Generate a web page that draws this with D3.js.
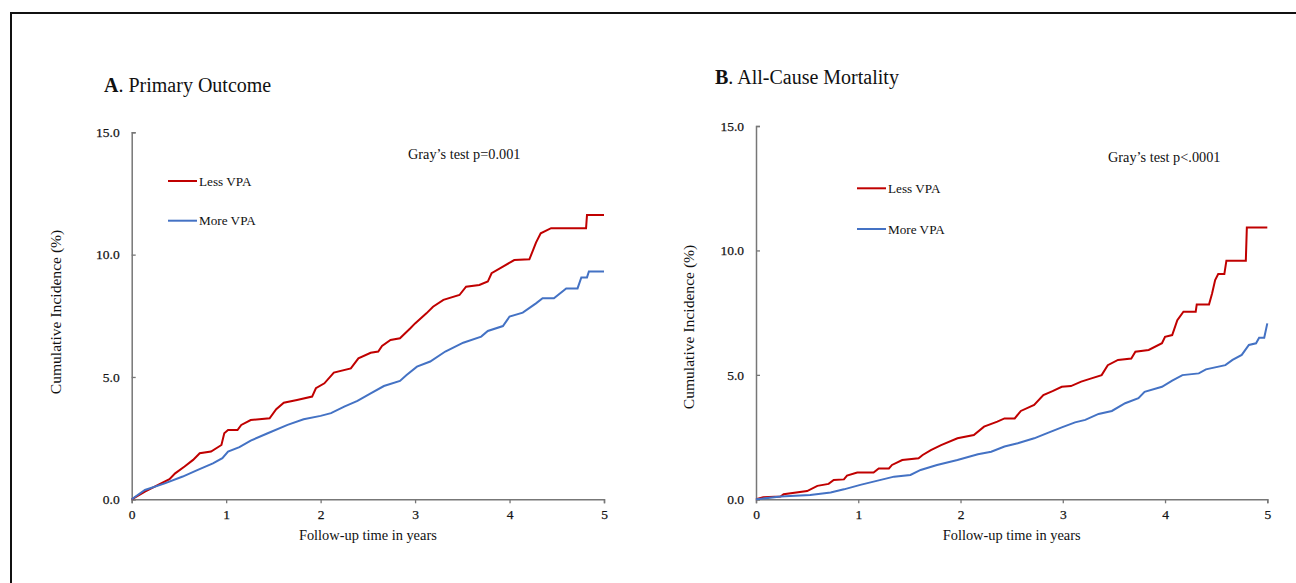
<!DOCTYPE html>
<html>
<head>
<meta charset="utf-8">
<script src="https://cdn.jsdelivr.net/npm/d3@7"></script>
<style>
  html, body { margin: 0; padding: 0; background: #fff; }
  svg { display: block; }
  text { font-family: "Liberation Serif", "Times New Roman", serif; fill: #111; }
</style>
</head>
<body>
<svg id="chart" width="1296" height="583"></svg>
<script>
// ---------- data ----------
const xTicks = [0, 1, 2, 3, 4, 5];
const yTicks = [0, 5, 10, 15];
const seriesNames = ["Less VPA", "More VPA"];

// Panel A: Primary Outcome (time in years, cumulative incidence %)
const aLessT = [0, 0.14, 0.28, 0.40, 0.46, 0.56, 0.65, 0.72, 0.84, 0.95, 0.98, 1.02, 1.12, 1.16, 1.26, 1.46, 1.53, 1.61, 1.75, 1.91, 1.95, 2.04, 2.14, 2.32, 2.40, 2.53, 2.61, 2.65, 2.74, 2.84, 2.95, 3.00, 3.12, 3.19, 3.30, 3.47, 3.54, 3.68, 3.77, 3.81, 3.93, 4.05, 4.21, 4.25, 4.28, 4.33, 4.44, 4.81, 4.82, 5.00];
const aLessV = [0, 0.31, 0.59, 0.82, 1.06, 1.34, 1.61, 1.88, 1.95, 2.22, 2.70, 2.83, 2.83, 3.04, 3.24, 3.31, 3.68, 3.95, 4.06, 4.20, 4.54, 4.74, 5.18, 5.35, 5.76, 5.99, 6.04, 6.27, 6.51, 6.58, 6.99, 7.19, 7.60, 7.87, 8.15, 8.35, 8.69, 8.76, 8.90, 9.24, 9.51, 9.78, 9.81, 10.19, 10.49, 10.87, 11.08, 11.08, 11.62, 11.62];
const aMoreT = [0, 0.14, 0.35, 0.54, 0.70, 0.86, 0.96, 1.02, 1.14, 1.26, 1.44, 1.65, 1.82, 2.00, 2.11, 2.25, 2.39, 2.53, 2.67, 2.84, 2.91, 3.02, 3.16, 3.32, 3.51, 3.70, 3.77, 3.93, 4.00, 4.14, 4.28, 4.35, 4.47, 4.60, 4.72, 4.76, 4.82, 4.84, 5.00];
const aMoreV = [0, 0.38, 0.65, 0.93, 1.20, 1.47, 1.68, 1.95, 2.13, 2.40, 2.70, 3.04, 3.27, 3.41, 3.52, 3.79, 4.02, 4.33, 4.63, 4.84, 5.08, 5.42, 5.63, 6.04, 6.40, 6.65, 6.88, 7.08, 7.47, 7.63, 8.01, 8.22, 8.22, 8.62, 8.62, 9.07, 9.07, 9.31, 9.31];

// Panel B: All-Cause Mortality
const bLessT = [0, 0.07, 0.24, 0.27, 0.50, 0.60, 0.71, 0.76, 0.86, 0.89, 0.99, 1.15, 1.20, 1.30, 1.33, 1.43, 1.59, 1.63, 1.71, 1.81, 1.97, 2.13, 2.23, 2.36, 2.43, 2.53, 2.59, 2.72, 2.81, 2.90, 2.99, 3.08, 3.18, 3.28, 3.38, 3.44, 3.54, 3.67, 3.71, 3.84, 3.97, 4.00, 4.07, 4.12, 4.18, 4.30, 4.31, 4.43, 4.46, 4.49, 4.52, 4.58, 4.60, 4.79, 4.80, 5.00];
const bLessV = [0, 0.08, 0.11, 0.20, 0.33, 0.54, 0.62, 0.78, 0.80, 0.95, 1.08, 1.08, 1.24, 1.24, 1.38, 1.58, 1.65, 1.78, 1.98, 2.18, 2.45, 2.58, 2.92, 3.12, 3.25, 3.25, 3.55, 3.79, 4.19, 4.35, 4.52, 4.55, 4.73, 4.86, 4.99, 5.39, 5.60, 5.66, 5.93, 6.00, 6.27, 6.53, 6.60, 7.20, 7.54, 7.54, 7.83, 7.83, 8.27, 8.81, 9.05, 9.05, 9.59, 9.59, 10.92, 10.92];
const bMoreT = [0, 0.24, 0.53, 0.73, 0.86, 1.02, 1.19, 1.35, 1.51, 1.61, 1.77, 1.97, 2.17, 2.30, 2.43, 2.56, 2.72, 2.86, 2.99, 3.12, 3.22, 3.35, 3.48, 3.61, 3.74, 3.80, 3.97, 4.07, 4.17, 4.33, 4.40, 4.59, 4.66, 4.75, 4.82, 4.89, 4.92, 4.97, 5.00];
const bMoreV = [0, 0.11, 0.17, 0.27, 0.40, 0.58, 0.75, 0.91, 0.98, 1.18, 1.38, 1.58, 1.81, 1.91, 2.12, 2.25, 2.45, 2.68, 2.89, 3.09, 3.19, 3.43, 3.55, 3.86, 4.06, 4.32, 4.52, 4.77, 4.99, 5.06, 5.22, 5.39, 5.60, 5.80, 6.20, 6.27, 6.49, 6.49, 7.07];

const panelTitles = [["A", ". Primary Outcome"], ["B", ". All-Cause Mortality"]];
const pTexts = ["Gray\u2019s test p=0.001", "Gray\u2019s test p<.0001"];
const yLabel = "Cumulative Incidence (%)";
const xLabel = "Follow-up time in years";

// ---------- drawing ----------
const colors = ["#C00000", "#4472C4"];
const svg = d3.select("#chart");
svg.append("rect").attr("width", 1296).attr("height", 583).attr("fill", "#fff");
svg.append("rect").attr("x", 11).attr("y", 13).attr("width", 1300).attr("height", 620)
  .attr("fill", "none").attr("stroke", "#111").attr("stroke-width", 2);

const panels = [
  { x0: 131.7, x1: 604, yTop: 132.3, yBot: 499.3, titleX: 104, titleY: 92,
    yLabX: 61, yLabY: 312, legX: 168, legY: [181, 220.7], pX: 408, pY: 159,
    series: [[aLessT, aLessV], [aMoreT, aMoreV]] },
  { x0: 756, x1: 1267.3, yTop: 126, yBot: 499.3, titleX: 715, titleY: 84,
    yLabX: 694, yLabY: 327, legX: 857, legY: [188.3, 229], pX: 1108, pY: 161.5,
    series: [[bLessT, bLessV], [bMoreT, bMoreV]] }
];

panels.forEach((p, i) => {
  const x = d3.scaleLinear().domain([0, 5]).range([p.x0, p.x1]);
  const y = d3.scaleLinear().domain([0, 15]).range([p.yBot, p.yTop]);
  const g = svg.append("g");

  // axes
  const xAxis = g.append("g").attr("transform", `translate(0,${p.yBot})`)
    .call(d3.axisBottom(x).tickValues(xTicks).tickFormat(d3.format("d")).tickSize(4).tickSizeOuter(4).tickPadding(6));
  const yAxis = g.append("g").attr("transform", `translate(${p.x0},0)`)
    .call(d3.axisLeft(y).tickValues(yTicks).tickFormat(d3.format(".1f")).tickSize(-4).tickSizeOuter(-4).tickPadding(12));
  [xAxis, yAxis].forEach(a => {
    a.select(".domain").attr("stroke", "#777").attr("stroke-width", 1.5);
    a.selectAll(".tick line").attr("stroke", "#777").attr("stroke-width", 1.3);
    a.selectAll(".tick text").attr("font-family", "Liberation Serif, serif")
      .attr("font-size", 13.5).attr("fill", "#1a1a1a")
      .attr("stroke", "#1a1a1a").attr("stroke-width", 0.25);
  });

  // curves
  const line = d3.line().x(d => x(d[0])).y(d => y(d[1]));
  p.series.forEach((s, k) => {
    const pts = s[0].map((t, j) => [t, s[1][j]]);
    g.append("path").datum(pts).attr("d", line)
      .attr("fill", "none").attr("stroke", colors[k]).attr("stroke-width", 2)
      .attr("stroke-linejoin", "miter");
  });

  // title
  const t = g.append("text").attr("x", p.titleX).attr("y", p.titleY).attr("font-size", 20);
  t.append("tspan").attr("font-weight", "bold").text(panelTitles[i][0]);
  t.append("tspan").text(panelTitles[i][1]);

  // legend
  seriesNames.forEach((n, k) => {
    g.append("line").attr("x1", p.legX).attr("x2", p.legX + 29)
      .attr("y1", p.legY[k]).attr("y2", p.legY[k])
      .attr("stroke", colors[k]).attr("stroke-width", 2);
    g.append("text").attr("x", p.legX + 31).attr("y", p.legY[k] + 4.5)
      .attr("font-size", 13.2).text(n);
  });

  // p-value
  g.append("text").attr("x", p.pX).attr("y", p.pY).attr("font-size", 14.3).text(pTexts[i]);

  // axis labels
  g.append("text").attr("x", (p.x0 + p.x1) / 2).attr("y", 539.5)
    .attr("text-anchor", "middle").attr("font-size", 14.4).text(xLabel);
  g.append("text").attr("transform", `translate(${p.yLabX},${p.yLabY}) rotate(-90)`)
    .attr("text-anchor", "middle").attr("font-size", 15.6).text(yLabel);
});
</script>
</body>
</html>
